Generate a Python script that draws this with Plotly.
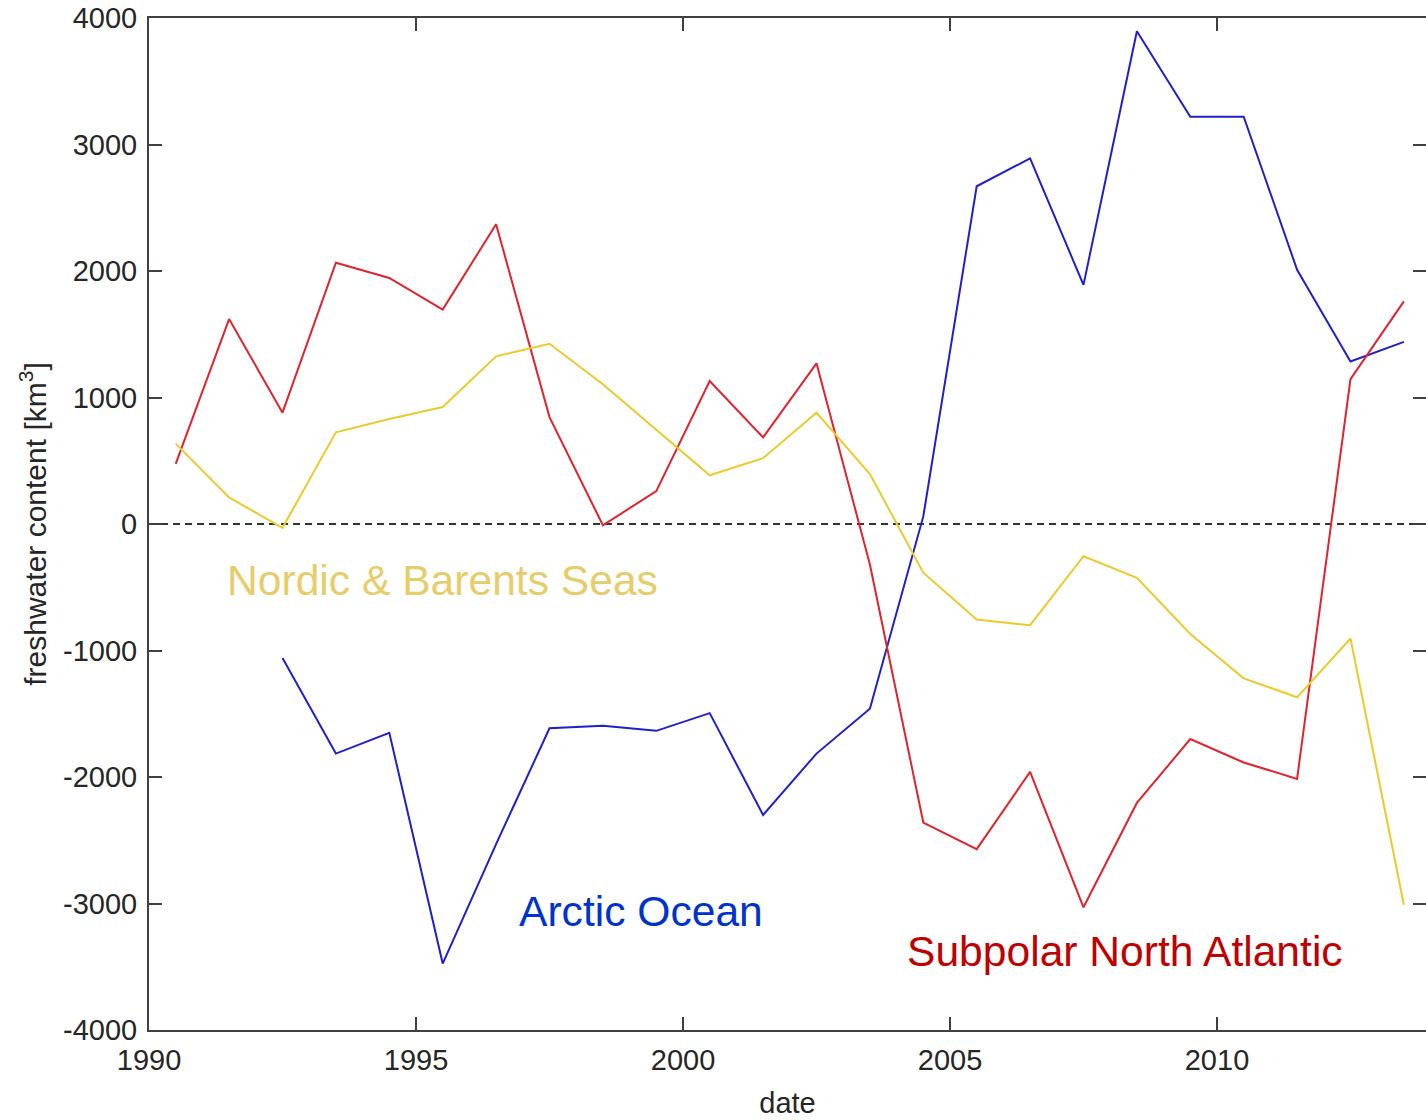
import plotly.graph_objects as go

# Annual freshwater content anomalies, mid-year time stamps
years = [1990.5, 1991.5, 1992.5, 1993.5, 1994.5, 1995.5, 1996.5, 1997.5,
         1998.5, 1999.5, 2000.5, 2001.5, 2002.5, 2003.5, 2004.5, 2005.5,
         2006.5, 2007.5, 2008.5, 2009.5, 2010.5, 2011.5, 2012.5, 2013.5]

arctic_ocean = [None, None, -1060, -1815, -1650, -3475, -2530, -1615,
                -1595, -1635, -1495, -2300, -1815, -1460, 60, 2670,
                2890, 1890, 3895, 3220, 3220, 2010, 1285, 1440]

subpolar_north_atlantic = [475, 1620, 880, 2065, 1945, 1695, 2370, 845,
                           -10, 260, 1130, 685, 1270, -320, -2360, -2570,
                           -1960, -3030, -2205, -1700, -1885, -2015, 1145, 1760]

nordic_barents = [635, 210, -30, 725, 830, 925, 1325, 1425,
                  1105, 745, 385, 520, 880, 395, -385, -755,
                  -800, -255, -425, -870, -1220, -1370, -905, -3010]

x_ticks = [1990, 1995, 2000, 2005, 2010]
y_ticks = [-4000, -3000, -2000, -1000, 0, 1000, 2000, 3000, 4000]
y_tick_text = [str(v) for v in y_ticks]

FONT = "Liberation Sans, Arial, sans-serif"
AXIS_COLOR = "#404040"

fig = go.Figure()

series = [
    ("Arctic Ocean", arctic_ocean, "#2020c8"),
    ("Subpolar North Atlantic", subpolar_north_atlantic, "#e0232d"),
    ("Nordic & Barents Seas", nordic_barents, "#ecca2c"),
]
for name, values, color in series:
    fig.add_trace(go.Scatter(x=years, y=values, mode="lines", name=name,
                             line=dict(color=color, width=2),
                             connectgaps=False, showlegend=False))

# zero reference line
fig.add_hline(y=0, line=dict(color="#333333", width=2, dash="7px,5px"),
              layer="below")

# region labels placed next to their curves
labels = [
    ("Nordic & Barents Seas", 1991.42, -443, "#e6cd6a"),
    ("Arctic Ocean", 1996.89, -3059, "#0033cc"),
    ("Subpolar North Atlantic", 2004.16, -3375, "#c00000"),
]
for text, lx, ly, color in labels:
    fig.add_annotation(x=lx, y=ly, text=text, showarrow=False,
                       xanchor="left", yanchor="middle",
                       font=dict(family=FONT, size=42.6, color=color))

axis_common = dict(
    showline=True, linecolor=AXIS_COLOR, linewidth=2, mirror="ticks",
    ticks="inside", ticklen=13, tickwidth=2, tickcolor=AXIS_COLOR,
    showgrid=False, zeroline=False,
    tickfont=dict(family=FONT, size=29, color="#262626"),
)

fig.update_xaxes(range=[1990, 2013.914], tickvals=x_ticks,
                 ticktext=[str(v) for v in x_ticks],
                 ticklabelstandoff=3,
                 title=dict(text="date", standoff=18,
                            font=dict(family=FONT, size=29, color="#262626")),
                 **axis_common)
fig.update_yaxes(range=[-4000, 4000], tickvals=y_ticks, ticktext=y_tick_text,
                 ticklabelstandoff=4,
                 title=dict(text="freshwater content [km<sup>3</sup>]", standoff=8,
                            font=dict(family=FONT, size=30, color="#262626")),
                 **axis_common)

fig.update_layout(
    width=1426, height=1120,
    margin=dict(l=149, r=0, t=18, b=90, autoexpand=False),
    plot_bgcolor="white", paper_bgcolor="white",
)

fig.write_html("out.html")
